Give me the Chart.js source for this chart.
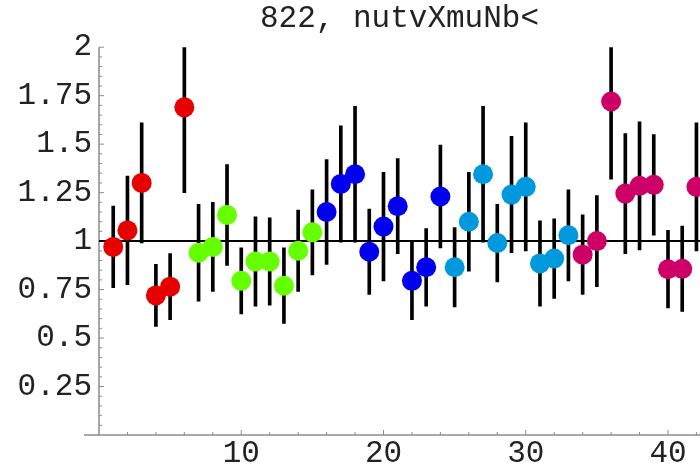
<!DOCTYPE html>
<html>
<head>
<meta charset="utf-8">
<script src="https://cdn.jsdelivr.net/npm/chart.js@4.4.1/dist/chart.umd.min.js"></script>
<style>
    html, body { margin: 0; padding: 0; background: #fff; }
    #wrap { width: 700px; height: 469px; }
</style>
</head>
<body>
<div id="wrap"><canvas id="chartRatio"></canvas></div>
<script>
// point index 1..42, ratio and its error
const indices = [1, 2, 3, 4, 5, 6, 7, 8, 9, 10, 11, 12, 13, 14, 15, 16, 17, 18, 19, 20, 21,
    22, 23, 24, 25, 26, 27, 28, 29, 30, 31, 32, 33, 34, 35, 36, 37, 38, 39, 40, 41, 42];
const ratios = [0.97, 1.055, 1.30, 0.72, 0.765, 1.69, 0.94, 0.97, 1.135, 0.795, 0.895, 0.895,
    0.77, 0.95, 1.045, 1.15, 1.295, 1.345, 0.945, 1.075, 1.18, 0.795, 0.865, 1.23, 0.865,
    1.10, 1.345, 0.99, 1.24, 1.28, 0.885, 0.91, 1.03, 0.93, 1.0, 1.72, 1.245, 1.285, 1.29,
    0.855, 0.857, 1.28];
const errors = [0.21, 0.28, 0.31, 0.16, 0.17, 0.44, 0.25, 0.23, 0.26, 0.17, 0.23, 0.225,
    0.195, 0.21, 0.22, 0.27, 0.30, 0.35, 0.22, 0.28, 0.245, 0.20, 0.20, 0.265, 0.205,
    0.255, 0.35, 0.20, 0.30, 0.33, 0.22, 0.205, 0.235, 0.205, 0.235, 0.40, 0.31, 0.33, 0.26,
    0.20, 0.22, 0.33];
// colour groups: first index of each group
const groupStarts = [1, 7, 16, 25, 34];
const groupColors = ["#e60000", "#66ff00", "#0000ee", "#0099dd", "#cc0066"];
const yTicks = [0.25, 0.5, 0.75, 1, 1.25, 1.5, 1.75, 2];
const xTicks = [10, 20, 30, 40];

const fuente = "'Liberation Mono', 'DejaVu Sans Mono', monospace";

function grupoDe(i) {
    let g = 0;
    groupStarts.forEach((s, k) => { if (i >= s) g = k; });
    return g;
}

const puntos = groupColors.map((color, g) => ({
    type: "scatter",
    data: indices.filter(i => grupoDe(i) === g).map(i => ({ x: i, y: ratios[i - 1] })),
    backgroundColor: color,
    borderWidth: 0,
    pointRadius: 10,
    pointHoverRadius: 10,
    order: 1
}));

const barras = {
    type: "bar",
    data: indices.map((i, k) => ({ x: i, y: [ratios[k] - errors[k], ratios[k] + errors[k]] })),
    backgroundColor: "#000",
    barThickness: 3,
    order: 2
};

const lineaUno = {
    type: "line",
    data: [{ x: 0, y: 1 }, { x: 42.25, y: 1 }],
    borderColor: "#000",
    borderWidth: 2,
    pointRadius: 0,
    order: 3
};

// Mathematica style axes with inward ticks
const ejes = {
    id: "ejes",
    beforeDatasetsDraw(chart) {
        const { ctx, chartArea, scales: { x, y } } = chart;
        const x0 = x.getPixelForValue(0);
        const y0 = y.getPixelForValue(0);
        ctx.save();
        ctx.strokeStyle = "#8c8c8c";
        ctx.lineWidth = 1.5;
        ctx.beginPath();
        ctx.moveTo(x0 - 15, y0);
        ctx.lineTo(chartArea.right, y0);
        ctx.moveTo(x0, y0);
        ctx.lineTo(x0, y.getPixelForValue(2));
        ctx.stroke();
        ctx.lineWidth = 1;
        ctx.beginPath();
        for (let k = 1; k <= 40; k++) {
            const py = y.getPixelForValue(k * 0.05);
            ctx.moveTo(x0, py);
            ctx.lineTo(x0 + (k % 5 === 0 ? 5 : 3), py);
        }
        for (let k = 1; k <= 21; k++) {
            const px = x.getPixelForValue(k * 2);
            ctx.moveTo(px, y0);
            ctx.lineTo(px, y0 - (k % 5 === 0 ? 5 : 3));
        }
        ctx.stroke();
        ctx.restore();
    }
};

const ctx = document.getElementById("chartRatio");
new Chart(ctx, {
    type: "scatter",
    data: { datasets: [...puntos, barras, lineaUno] },
    options: {
        responsive: true,
        maintainAspectRatio: false,
        animation: false,
        layout: { padding: 0, autoPadding: false },
        plugins: {
            legend: { display: false },
            tooltip: { enabled: false },
            title: {
                display: true,
                text: "822, nutvXmuNb<",
                fullSize: false,
                color: "#222",
                font: { family: fuente, size: 31, weight: "normal", lineHeight: 1.2 },
                padding: { top: 0, bottom: 10 }
            }
        },
        scales: {
            x: {
                type: "linear",
                min: 0,
                max: 42.25,
                offset: false,
                grid: { display: false, drawTicks: false, offset: false },
                border: { display: false },
                afterBuildTicks: s => { s.ticks = xTicks.map(v => ({ value: v })); },
                afterFit: s => {
                    s.height = 34;
                    s.paddingLeft = 0;
                    s.paddingRight = 0;
                },
                ticks: {
                    color: "#222",
                    padding: 0,
                    maxRotation: 0,
                    font: { family: fuente, size: 31 },
                    callback: v => String(v)
                }
            },
            y: {
                type: "linear",
                min: 0,
                max: 2,
                grid: { display: false, drawTicks: false },
                border: { display: false },
                afterBuildTicks: s => { s.ticks = yTicks.map(v => ({ value: v })); },
                afterFit: s => {
                    s.width = 99;
                    s.paddingTop = 0;
                    s.paddingBottom = 0;
                },
                ticks: {
                    color: "#222",
                    padding: 7,
                    font: { family: fuente, size: 31 },
                    callback: v => String(v)
                }
            }
        }
    },
    plugins: [ejes]
});
</script>
</body>
</html>
